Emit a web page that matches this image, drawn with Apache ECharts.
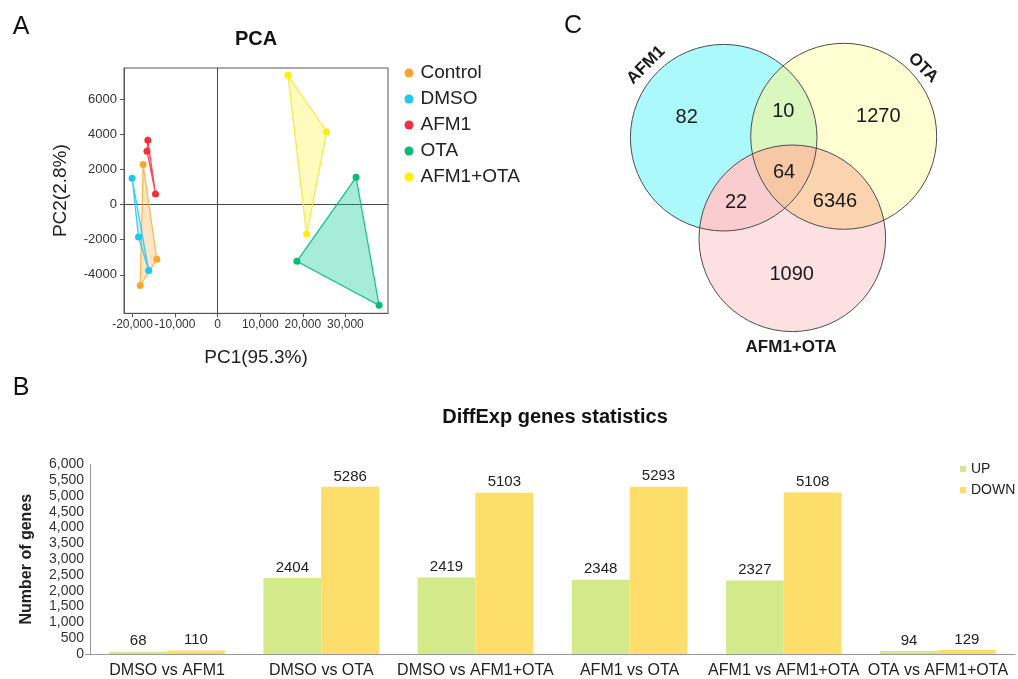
<!DOCTYPE html>
<html>
<head>
<meta charset="utf-8">
<script src="https://cdn.jsdelivr.net/npm/echarts@6/dist/echarts.min.js"></script>
<style>html,body{margin:0;padding:0;background:#fff}#main{width:1018px;height:679px}</style>
</head>
<body>
<div id="main"></div>
<script>
// ---------- DATA ----------
const pcaGroups = ['Control', 'DMSO', 'AFM1', 'OTA', 'AFM1+OTA'];
const pcaControl = [[-17500, 2290], [-14300, -3110], [-18200, -4620]];
const pcaDMSO = [[-20100, 1510], [-18600, -1850], [-16200, -3760]];
const pcaAFM1 = [[-16400, 3680], [-16600, 3050], [-14600, 610]];
const pcaOTA = [[32500, 1560], [18600, -3230], [37900, -5740]];
const pcaAFM1OTA = [[16500, 7390], [25600, 4160], [20900, -1680]];
const pcaXTicks = [-20000, -10000, 0, 10000, 20000, 30000];
const pcaYTicks = [-4000, -2000, 0, 2000, 4000, 6000];

const comparisons = ['DMSO vs AFM1', 'DMSO vs OTA', 'DMSO vs AFM1+OTA', 'AFM1 vs OTA', 'AFM1 vs AFM1+OTA', 'OTA vs AFM1+OTA'];
const upGenes = [68, 2404, 2419, 2348, 2327, 94];
const downGenes = [110, 5286, 5103, 5293, 5108, 129];

const vennSets = ['AFM1', 'OTA', 'AFM1+OTA'];
const vennRegions = ['AFM1 only', 'OTA only', 'AFM1+OTA only', 'AFM1&OTA', 'AFM1&AFM1+OTA', 'OTA&AFM1+OTA', 'all'];
const vennCounts = [82, 1270, 1090, 10, 22, 6346, 64];

// ---------- STYLE / LAYOUT ----------
const FONT = '"Liberation Sans", Arial, sans-serif';
const pcaColors = ['#f9a52e', '#1ec6ef', '#f0323f', '#05bb76', '#fff000'];
const pcaFill = ['rgba(249,165,46,0.28)', 'rgba(30,198,239,0.25)', 'rgba(240,50,63,0.25)', 'rgba(0,200,140,0.35)', 'rgba(255,240,0,0.25)'];
const pcaStroke = ['rgba(249,165,46,0.75)', 'rgba(30,198,239,0.8)', 'rgba(240,50,63,0.85)', 'rgba(5,190,130,0.9)', 'rgba(245,232,60,0.9)'];
const pcaSets = [pcaControl, pcaDMSO, pcaAFM1, pcaOTA, pcaAFM1OTA];

const vennCircles = {
  A: {x: 723.7, y: 137.7, r: 93.3},
  O: {x: 843.7, y: 136.3, r: 93.0},
  P: {x: 792.3, y: 238.3, r: 93.3}
};
const vennRegionColors = ['#abf9fb', '#fefed2', '#fde1e2', '#daf7c0', '#f9ccd0', '#fbd3b0', '#f6c8a6'];
const vennLabelPos = [[686.7, 117.3], [878.3, 116], [791.7, 274.3], [783.3, 111.7], [736, 202.7], [835, 201.7], [784, 172.3]];
const vennSetLabel = [
  {x: 646, y: 65, rot: Math.PI / 4},
  {x: 923, y: 68, rot: -Math.PI / 4},
  {x: 791, y: 347, rot: 0}
];

// ---------- VENN GEOMETRY ----------
function inside(c, p) { return Math.hypot(p[0] - c.x, p[1] - c.y) < c.r - 0.01; }
function intersect(c1, c2) {
  const dx = c2.x - c1.x, dy = c2.y - c1.y, d = Math.hypot(dx, dy);
  const a = (c1.r * c1.r - c2.r * c2.r + d * d) / (2 * d);
  const h = Math.sqrt(Math.max(0, c1.r * c1.r - a * a));
  const mx = c1.x + a * dx / d, my = c1.y + a * dy / d;
  return [[mx + h * dy / d, my - h * dx / d], [mx - h * dy / d, my + h * dx / d]];
}
function split(pts, c) { return inside(c, pts[0]) ? {in: pts[0], out: pts[1]} : {in: pts[1], out: pts[0]}; }
const C = vennCircles;
const AO = split(intersect(C.A, C.O), C.P);
const AP = split(intersect(C.A, C.P), C.O);
const OP = split(intersect(C.O, C.P), C.A);
function arcPts(key, p, q, want) {
  const c = C[key];
  const a1 = Math.atan2(p[1] - c.y, p[0] - c.x), a2 = Math.atan2(q[1] - c.y, q[0] - c.x);
  let d = a2 - a1;
  while (d < 0) d += 2 * Math.PI;
  let delta = d;
  for (const cand of [d, d - 2 * Math.PI]) {
    const m = a1 + cand / 2;
    const mp = [c.x + c.r * Math.cos(m), c.y + c.r * Math.sin(m)];
    if (Object.keys(want).every(k => inside(C[k], mp) === want[k])) { delta = cand; break; }
  }
  const n = 60, out = [];
  for (let i = 0; i < n; i++) {
    const t = a1 + delta * i / n;
    out.push([c.x + c.r * Math.cos(t), c.y + c.r * Math.sin(t)]);
  }
  return out;
}
const regionDefs = [
  [['A', AO.out, AP.out, {O: false, P: false}], ['P', AP.out, OP.in, {A: true, O: false}], ['O', OP.in, AO.out, {A: true, P: false}]],
  [['O', AO.out, OP.out, {A: false, P: false}], ['P', OP.out, AP.in, {O: true, A: false}], ['A', AP.in, AO.out, {O: true, P: false}]],
  [['P', AP.out, OP.out, {A: false, O: false}], ['O', OP.out, AO.in, {P: true, A: false}], ['A', AO.in, AP.out, {P: true, O: false}]],
  [['A', AO.out, AP.in, {O: true, P: false}], ['P', AP.in, OP.in, {A: true, O: true}], ['O', OP.in, AO.out, {A: true, P: false}]],
  [['A', AP.out, AO.in, {P: true, O: false}], ['O', AO.in, OP.in, {A: true, P: true}], ['P', OP.in, AP.out, {A: true, O: false}]],
  [['O', OP.out, AO.in, {P: true, A: false}], ['A', AO.in, AP.in, {O: true, P: true}], ['P', AP.in, OP.out, {O: true, A: false}]],
  [['A', AO.in, AP.in, {O: true, P: true}], ['P', AP.in, OP.in, {A: true, O: true}], ['O', OP.in, AO.in, {A: true, P: true}]]
];
const regionPolys = regionDefs.map(def => def.reduce((acc, a) => acc.concat(arcPts(a[0], a[1], a[2], a[3])), []));

// ---------- CHART ----------
const chart = echarts.init(document.getElementById('main'), null, {renderer: 'canvas'});

const series = [];
pcaSets.forEach((pts, gi) => {
  series.push({
    type: 'custom', name: pcaGroups[gi] + ' hull', xAxisIndex: 0, yAxisIndex: 0,
    data: pts, clip: true, silent: true, z: 2,
    renderItem: function (params, api) {
      if (params.dataIndex !== 0) return null;
      const poly = pts.map(p => api.coord(p));
      return {type: 'polygon', shape: {points: poly},
        style: {fill: pcaFill[gi], stroke: pcaStroke[gi], lineWidth: 1.3}};
    }
  });
});
pcaSets.forEach((pts, gi) => {
  const s = {
    type: 'scatter', name: pcaGroups[gi], xAxisIndex: 0, yAxisIndex: 0,
    data: pts, symbol: 'circle', symbolSize: 7, z: 3,
    itemStyle: {color: pcaColors[gi], opacity: 1}
  };
  if (gi === 0) {
    s.markLine = {silent: true, symbol: 'none', label: {show: false},
      lineStyle: {color: '#4a4a4a', type: 'solid', width: 1}, z: 1,
      data: [{xAxis: 0}, {yAxis: 0}]};
  }
  series.push(s);
});
const barLabel = {show: true, position: 'top', distance: 3, fontSize: 15, color: '#222', fontFamily: FONT};
series.push({
  type: 'bar', name: 'UP', xAxisIndex: 1, yAxisIndex: 1, data: upGenes,
  barGap: '0%', barCategoryGap: '25%', itemStyle: {color: '#d4ea8a'}, label: barLabel
});
series.push({
  type: 'bar', name: 'DOWN', xAxisIndex: 1, yAxisIndex: 1, data: downGenes,
  barGap: '0%', barCategoryGap: '25%', itemStyle: {color: '#fede6a'}, label: barLabel
});
series.push({
  type: 'custom', name: 'venn regions', coordinateSystem: 'none', silent: true, z: 2,
  data: vennCounts,
  renderItem: function (params, api) {
    const i = params.dataIndex;
    return {type: 'group', children: [
      {type: 'polygon', shape: {points: regionPolys[i]}, style: {fill: vennRegionColors[i], stroke: null}},
      {type: 'text', x: vennLabelPos[i][0], y: vennLabelPos[i][1],
        style: {text: String(api.value(0)), fill: '#1a1a1a', fontSize: 20, fontFamily: FONT,
          textAlign: 'center', textVerticalAlign: 'middle', align: 'center', verticalAlign: 'middle'}}
    ]};
  }
});
series.push({
  type: 'custom', name: 'venn sets', coordinateSystem: 'none', silent: true, z: 3,
  data: vennSets,
  renderItem: function (params) {
    const i = params.dataIndex;
    const c = C[['A', 'O', 'P'][i]];
    const L = vennSetLabel[i];
    return {type: 'group', children: [
      {type: 'circle', shape: {cx: c.x, cy: c.y, r: c.r}, style: {fill: null, stroke: '#4d4d4d', lineWidth: 1}},
      {type: 'text', x: L.x, y: L.y, rotation: L.rot,
        style: {text: vennSets[i], fill: '#1a1a1a', fontSize: 17, fontWeight: 'bold', fontFamily: FONT,
          textAlign: 'center', textVerticalAlign: 'middle', align: 'center', verticalAlign: 'middle'}}
    ]};
  }
});

function txt(text, x, y, size, weight) {
  return {type: 'text', x: x, y: y, silent: true,
    style: {text: text, fill: '#111', fontSize: size, fontWeight: weight || 'normal', fontFamily: FONT,
      textAlign: 'center', textVerticalAlign: 'middle', align: 'center', verticalAlign: 'middle'}};
}

const option = {
  animation: false,
  backgroundColor: '#fff',
  textStyle: {fontFamily: FONT},
  graphic: [
    txt('A', 21, 27, 25),
    txt('PCA', 256, 39, 20, 'bold'),
    txt('C', 573, 26, 25),
    txt('B', 21, 388, 25),
    txt('DiffExp genes statistics', 555, 417, 20, 'bold')
  ],
  legend: [
    {data: pcaGroups.map(n => ({name: n, icon: 'circle'})), orient: 'vertical', left: 399.5, top: 58,
      itemWidth: 9, itemHeight: 9, itemGap: 6,
      textStyle: {fontSize: 19, color: '#222', fontFamily: FONT, lineHeight: 20, padding: [0, 0, 0, 2]}},
    {data: [{name: 'UP', icon: 'rect'}, {name: 'DOWN', icon: 'rect'}], orient: 'vertical', left: 955, top: 457,
      itemWidth: 6, itemHeight: 6, itemGap: 7,
      textStyle: {fontSize: 14, color: '#222', fontFamily: FONT, lineHeight: 14}}
  ],
  grid: [
    {left: 124, top: 68, width: 264, height: 245.3, show: true, borderColor: '#555', borderWidth: 1},
    {left: 90, top: 464.3, right: 3, bottom: 24.7}
  ],
  xAxis: [
    {type: 'value', gridIndex: 0, min: -22000, max: 40000,
      name: 'PC1(95.3%)', nameLocation: 'middle', nameGap: 35,
      nameTextStyle: {fontSize: 19, color: '#222', fontFamily: FONT},
      axisLine: {show: true, onZero: false, lineStyle: {color: '#555'}},
      axisTick: {show: true, inside: false, length: 4, customValues: pcaXTicks, lineStyle: {color: '#555'}},
      axisLabel: {customValues: pcaXTicks, fontSize: 12, color: '#333', margin: 5, fontFamily: FONT,
        formatter: v => v.toLocaleString('en-US')},
      splitLine: {show: false}},
    {type: 'category', gridIndex: 1, data: comparisons,
      axisLine: {show: true, lineStyle: {color: '#999', width: 1.2}},
      axisTick: {show: false},
      axisLabel: {interval: 0, fontSize: 16, color: '#222', margin: 9, fontFamily: FONT}}
  ],
  yAxis: [
    {type: 'value', gridIndex: 0, min: -6200, max: 7800,
      name: 'PC2(2.8%)', nameLocation: 'middle', nameGap: 54, nameRotate: 90,
      nameTextStyle: {fontSize: 19, color: '#222', fontFamily: FONT},
      axisLine: {show: true, onZero: false, lineStyle: {color: '#555'}},
      axisTick: {show: true, inside: false, length: 4, customValues: pcaYTicks, lineStyle: {color: '#555'}},
      axisLabel: {customValues: pcaYTicks, fontSize: 13, color: '#333', margin: 7, fontFamily: FONT,
        formatter: v => String(v)},
      splitLine: {show: false}},
    {type: 'value', gridIndex: 1, min: 0, max: 6000, interval: 500,
      name: 'Number of genes', nameLocation: 'middle', nameGap: 55, nameRotate: 90,
      nameTextStyle: {fontSize: 16, fontWeight: 'bold', color: '#222', fontFamily: FONT},
      axisLine: {show: true, lineStyle: {color: '#999'}},
      axisTick: {show: true, length: 5, customValues: [0], lineStyle: {color: '#999'}},
      axisLabel: {fontSize: 14, color: '#333', margin: 6, fontFamily: FONT,
        formatter: v => v.toLocaleString('en-US')},
      splitLine: {show: false}}
  ],
  series: series
};
chart.setOption(option);
</script>
</body>
</html>
